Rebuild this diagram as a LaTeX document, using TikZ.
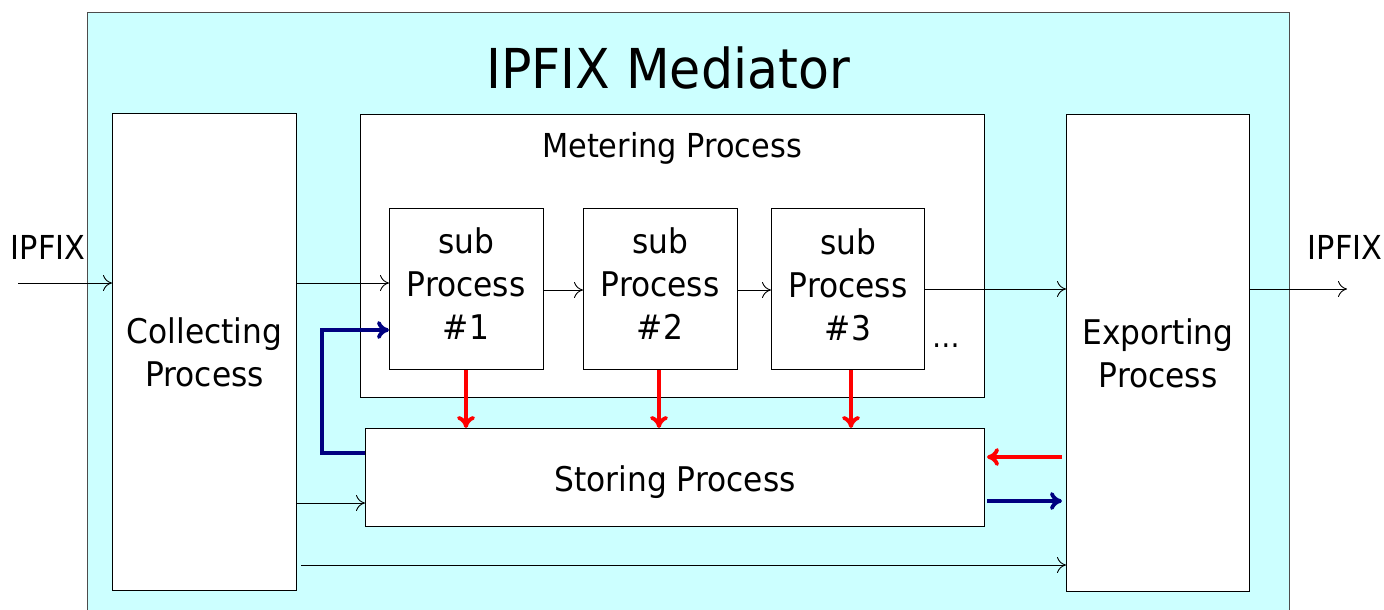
\documentclass[tikz,border=0pt]{standalone}
\usepackage{fontspec}
\setmainfont{DejaVu Sans}[FakeStretch=0.92]
\usetikzlibrary{arrows.meta}
\definecolor{medbg}{HTML}{CCFFFF}
\definecolor{navyline}{HTML}{000080}
\definecolor{redline}{HTML}{FF0000}
\begin{document}
\begin{tikzpicture}[x=1pt,y=-1pt,
  block/.style={draw=black, line width=1pt, fill=white, anchor=north west, inner sep=0pt, align=center},
  bigtext/.style={font=\fontsize{34}{43}\selectfont},
  flow/.style={draw=black, line width=0.9pt, -{To[length=9pt,width=16pt,line width=0.9pt]}},
  redflow/.style={draw=redline, line width=3.8pt, -{To[length=12pt,width=18pt,line width=3.8pt]}},
  blueflow/.style={draw=navyline, line width=3.8pt, -{To[length=12pt,width=18pt,line width=3.8pt]}}]
\useasboundingbox (0,0) rectangle (1384,610);
% mediator frame
\fill[medbg] (87,13) rectangle (1289,640);
\draw[line width=1pt, draw=black!70] (87,640) -- (87,13) -- (1289,13) -- (1289,640);
\node[font=\fontsize{55}{60}\selectfont] (title) at (668,68) {IPFIX Mediator};

% process blocks
\node[block, bigtext, minimum width=184pt, minimum height=477pt] (coll) at (112,113) {Collecting\\Process};
\node[block, minimum width=624pt, minimum height=283pt] (meter) at (360,114) {};
\node[font=\fontsize{33}{36}\selectfont] (meterlabel) at (672,148) {Metering Process};
\node[block, bigtext, minimum width=183pt, minimum height=477pt] (expo) at (1066,114) {Exporting\\Process};
\node[block, minimum width=619pt, minimum height=98pt] (stor) at (365,428) {};
\node[bigtext] (storlabel) at (675,482) {Storing Process};
\node[block, minimum width=154pt, minimum height=161pt] (sub1) at (389,208) {};
\node[block, minimum width=154pt, minimum height=161pt] (sub2) at (583,208) {};
\node[block, minimum width=153pt, minimum height=161pt] (sub3) at (771,208) {};
\node[bigtext, align=center] (sub1label) at (466,284) {sub\\Process\\\#1};
\node[bigtext, align=center] (sub2label) at (660,284) {sub\\Process\\\#2};
\node[bigtext, align=center] (sub3label) at (848,285) {sub\\Process\\\#3};
\node[font=\fontsize{30}{36}\selectfont] (dots) at (946,346) {\dots};

% external labels
\node[font=\fontsize{33}{36}\selectfont] (inlabel) at (48,247) {IPFIX};
\node[font=\fontsize{33}{36}\selectfont] (outlabel) at (1345,247) {IPFIX};
\coordinate (inend) at (18,283);
\coordinate (outend) at (1347,289);

% data flows
\draw[flow] (inend) -- (coll.west |- inend);
\draw[flow] (coll.east |- 0,283) -- (sub1.west |- 0,283);
\draw[flow] (sub1.east |- 0,290) -- (sub2.west |- 0,290);
\draw[flow] (sub2.east |- 0,290) -- (sub3.west |- 0,290);
\draw[flow] (sub3.east |- 0,289) -- (expo.west |- 0,289);
\draw[flow] (expo.east |- outend) -- (outend);
\draw[flow] (coll.east |- 0,503) -- (stor.west |- 0,503);
\draw[flow] ([xshift=4pt]coll.east |- 0,565) -- (expo.west |- 0,565);

% storage flows
\draw[redflow] (466,0 |- sub1.south) -- (466,0 |- stor.north);
\draw[redflow] (659,0 |- sub2.south) -- (659,0 |- stor.north);
\draw[redflow] (851,0 |- sub3.south) -- (851,0 |- stor.north);
\draw[redflow] ([xshift=-4pt]expo.west |- 0,457) -- ([xshift=2pt]stor.east |- 0,457);
\draw[blueflow] ([xshift=2pt]stor.east |- 0,501) -- ([xshift=-4pt]expo.west |- 0,501);
\draw[blueflow, line join=miter] (stor.west |- 0,453) -- (322,453) |- (sub1.west |- 0,330);
\end{tikzpicture}
\end{document}
